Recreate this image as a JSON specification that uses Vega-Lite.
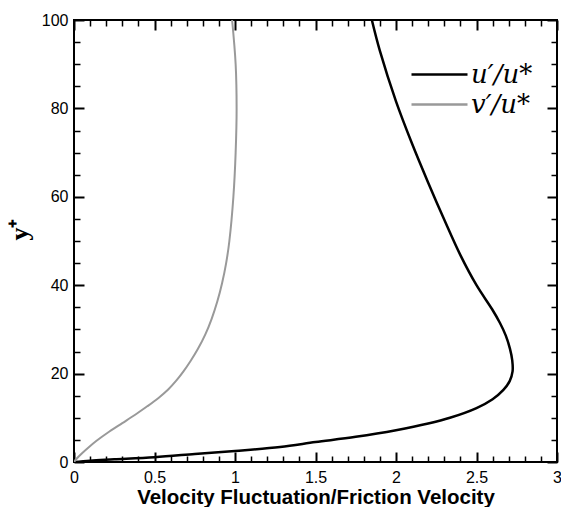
{
  "$schema": "https://vega.github.io/schema/vega-lite/v6.json",
  "width": 483,
  "height": 442,
  "autosize": {"type": "none"},
  "padding": {"left": 74, "top": 20, "right": 4, "bottom": 45},
  "background": "white",
  "config": {
    "view": {"stroke": "black", "strokeWidth": 2},
    "axis": {
      "domain": false,
      "grid": false,
      "tickColor": "black",
      "labelColor": "black",
      "titleColor": "black",
      "labelFont": "Liberation Sans",
      "labelFontSize": 16,
      "labelFlush": false,
      "labelOverlap": false,
      "labelBound": false
    },
    "legend": {
      "orient": "none",
      "title": null,
      "padding": 0,
      "symbolType": "stroke",
      "symbolSize": 3136,
      "symbolStrokeWidth": 2.5,
      "labelFont": "DejaVu Serif",
      "labelFontStyle": "italic",
      "labelFontSize": 26,
      "labelColor": "black",
      "labelOffset": 2,
      "labelLimit": 200
    }
  },
  "data": {
    "values": [
      {"series": "u", "vel": 0.0, "yplus": 0.0},
      {"series": "u", "vel": 0.1, "yplus": 0.3},
      {"series": "u", "vel": 0.25, "yplus": 0.6},
      {"series": "u", "vel": 0.5, "yplus": 1.1},
      {"series": "u", "vel": 0.75, "yplus": 1.8},
      {"series": "u", "vel": 1.0, "yplus": 2.5},
      {"series": "u", "vel": 1.28, "yplus": 3.4},
      {"series": "u", "vel": 1.5, "yplus": 4.5},
      {"series": "u", "vel": 1.75, "yplus": 5.7},
      {"series": "u", "vel": 2.0, "yplus": 7.2},
      {"series": "u", "vel": 2.2, "yplus": 8.7},
      {"series": "u", "vel": 2.335, "yplus": 10.0},
      {"series": "u", "vel": 2.5, "yplus": 12.2},
      {"series": "u", "vel": 2.6, "yplus": 14.2},
      {"series": "u", "vel": 2.667, "yplus": 16.3},
      {"series": "u", "vel": 2.706, "yplus": 18.3},
      {"series": "u", "vel": 2.724, "yplus": 20.5},
      {"series": "u", "vel": 2.722, "yplus": 23.0},
      {"series": "u", "vel": 2.708, "yplus": 25.6},
      {"series": "u", "vel": 2.682, "yplus": 28.6},
      {"series": "u", "vel": 2.645, "yplus": 31.5},
      {"series": "u", "vel": 2.598, "yplus": 34.5},
      {"series": "u", "vel": 2.5, "yplus": 40.0},
      {"series": "u", "vel": 2.4, "yplus": 46.8},
      {"series": "u", "vel": 2.3, "yplus": 54.8},
      {"series": "u", "vel": 2.2, "yplus": 63.2},
      {"series": "u", "vel": 2.1, "yplus": 72.0},
      {"series": "u", "vel": 2.0, "yplus": 81.6},
      {"series": "u", "vel": 1.9, "yplus": 93.0},
      {"series": "u", "vel": 1.85, "yplus": 100.0},
      {"series": "v", "vel": 0.0, "yplus": 0.0},
      {"series": "v", "vel": 0.02, "yplus": 0.9},
      {"series": "v", "vel": 0.05, "yplus": 2.0},
      {"series": "v", "vel": 0.09, "yplus": 3.3},
      {"series": "v", "vel": 0.14, "yplus": 4.8},
      {"series": "v", "vel": 0.22, "yplus": 6.9},
      {"series": "v", "vel": 0.3, "yplus": 8.8},
      {"series": "v", "vel": 0.38, "yplus": 10.7},
      {"series": "v", "vel": 0.455, "yplus": 12.6},
      {"series": "v", "vel": 0.525, "yplus": 14.5},
      {"series": "v", "vel": 0.585, "yplus": 16.4},
      {"series": "v", "vel": 0.635, "yplus": 18.4},
      {"series": "v", "vel": 0.68, "yplus": 20.5},
      {"series": "v", "vel": 0.725, "yplus": 22.9},
      {"series": "v", "vel": 0.77, "yplus": 25.6},
      {"series": "v", "vel": 0.815, "yplus": 28.8},
      {"series": "v", "vel": 0.855, "yplus": 32.4},
      {"series": "v", "vel": 0.89, "yplus": 36.3},
      {"series": "v", "vel": 0.92, "yplus": 40.5},
      {"series": "v", "vel": 0.945, "yplus": 45.0},
      {"series": "v", "vel": 0.965, "yplus": 50.0},
      {"series": "v", "vel": 0.99, "yplus": 60.0},
      {"series": "v", "vel": 1.004, "yplus": 70.0},
      {"series": "v", "vel": 1.01, "yplus": 80.0},
      {"series": "v", "vel": 1.004, "yplus": 90.0},
      {"series": "v", "vel": 0.982, "yplus": 100.0}
    ]
  },
  "encoding": {
    "x": {"field": "vel", "type": "quantitative", "scale": {"domain": [0, 3], "nice": false, "zero": false}},
    "y": {"field": "yplus", "type": "quantitative", "scale": {"domain": [0, 100], "nice": false}},
    "order": {"field": "yplus", "type": "quantitative"}
  },
  "resolve": {
    "axis": {"x": "independent", "y": "independent"},
    "scale": {"color": "independent"},
    "legend": {"color": "independent"}
  },
  "layer": [
    {
      "transform": [{"filter": "datum.series === 'u'"}],
      "mark": {"type": "line", "strokeWidth": 2.5, "clip": true, "interpolate": "catmull-rom"},
      "encoding": {
        "color": {
          "field": "series",
          "type": "nominal",
          "scale": {"domain": ["u"], "range": ["#000000"]},
          "legend": {"legendX": 336, "legendY": 25, "labelExpr": "'u′/u*'"}
        },
        "x": {
          "field": "vel",
          "type": "quantitative",
          "axis": {
            "orient": "bottom",
            "values": [0, 0.1, 0.2, 0.3, 0.4, 0.5, 0.6, 0.7, 0.8, 0.9, 1, 1.1, 1.2, 1.3, 1.4, 1.5, 1.6, 1.7, 1.8, 1.9, 2, 2.1, 2.2, 2.3, 2.4, 2.5, 2.6, 2.7, 2.8, 2.9, 3],
            "format": "~g",
            "labelExpr": "abs(datum.value * 2 - round(datum.value * 2)) < 1e-6 ? datum.label : ''",
            "tickSize": {"condition": {"test": "abs(datum.value * 2 - round(datum.value * 2)) < 1e-6", "value": -10}, "value": -6},
            "tickWidth": {"condition": {"test": "abs(datum.value * 2 - round(datum.value * 2)) < 1e-6", "value": 2}, "value": 1.5},
            "labelPadding": 17,
            "title": "Velocity Fluctuation/Friction Velocity",
            "titleFont": "Liberation Sans",
            "titleFontWeight": "bold",
            "titleFontSize": 20.5,
            "titlePadding": -2
          }
        },
        "y": {
          "field": "yplus",
          "type": "quantitative",
          "axis": {
            "orient": "left",
            "values": [0, 5, 10, 15, 20, 25, 30, 35, 40, 45, 50, 55, 60, 65, 70, 75, 80, 85, 90, 95, 100],
            "labelExpr": "datum.value % 20 === 0 ? datum.label : ''",
            "tickSize": {"condition": {"test": "datum.value % 20 === 0", "value": -10}, "value": -6},
            "tickWidth": {"condition": {"test": "datum.value % 20 === 0", "value": 2}, "value": 1.5},
            "labelPadding": 16,
            "title": "y⁺",
            "titleFont": "Liberation Serif",
            "titleFontWeight": "bold",
            "titleFontSize": 26,
            "titleAngle": 270,
            "titleAlign": "center",
            "titleBaseline": "middle",
            "titleX": -55,
            "titleY": 209
          }
        }
      }
    },
    {
      "transform": [{"filter": "datum.series === 'v'"}],
      "mark": {"type": "line", "strokeWidth": 2, "clip": true, "interpolate": "catmull-rom"},
      "encoding": {
        "color": {
          "field": "series",
          "type": "nominal",
          "scale": {"domain": ["v"], "range": ["#999999"]},
          "legend": {"legendX": 336, "legendY": 55, "labelExpr": "'v′/u*'"}
        },
        "x": {
          "field": "vel",
          "type": "quantitative",
          "axis": {
            "orient": "top",
            "values": [0, 0.1, 0.2, 0.3, 0.4, 0.5, 0.6, 0.7, 0.8, 0.9, 1, 1.1, 1.2, 1.3, 1.4, 1.5, 1.6, 1.7, 1.8, 1.9, 2, 2.1, 2.2, 2.3, 2.4, 2.5, 2.6, 2.7, 2.8, 2.9, 3],
            "labels": false,
            "title": null,
            "tickSize": {"condition": {"test": "abs(datum.value * 2 - round(datum.value * 2)) < 1e-6", "value": -10}, "value": -6},
            "tickWidth": {"condition": {"test": "abs(datum.value * 2 - round(datum.value * 2)) < 1e-6", "value": 2}, "value": 1.5}
          }
        },
        "y": {
          "field": "yplus",
          "type": "quantitative",
          "axis": {
            "orient": "right",
            "values": [0, 5, 10, 15, 20, 25, 30, 35, 40, 45, 50, 55, 60, 65, 70, 75, 80, 85, 90, 95, 100],
            "labels": false,
            "title": null,
            "tickSize": {"condition": {"test": "datum.value % 20 === 0", "value": -10}, "value": -6},
            "tickWidth": {"condition": {"test": "datum.value % 20 === 0", "value": 2}, "value": 1.5}
          }
        }
      }
    }
  ]
}
